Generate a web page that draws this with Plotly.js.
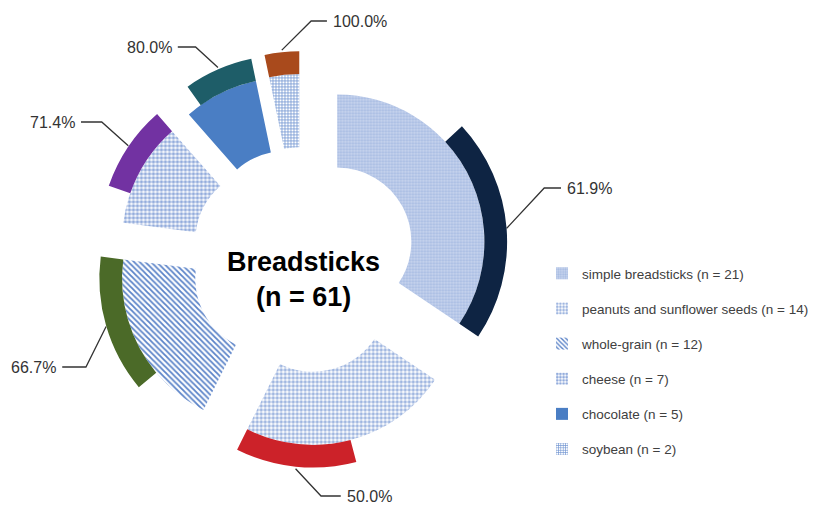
<!DOCTYPE html>
<html>
<head>
<meta charset="utf-8">
<script src="https://cdn.plot.ly/plotly-3.0.1.min.js"></script>
<style>html,body{margin:0;padding:0;background:#fff;}#chart{width:814px;height:507px;}</style>
</head>
<body>
<div id="chart"></div>
<script>
// ---- data ----
const categories = ['simple breadsticks', 'peanuts and sunflower seeds', 'whole-grain', 'cheese', 'chocolate', 'soybean'];
const counts = [21, 14, 12, 7, 5, 2];
const percents = [61.9, 50.0, 66.7, 71.4, 80.0, 100.0];
const chartTitle = 'Breadsticks';

// ---- styles / layout constants ----
const W = 814, H = 507;
const CX = 307, CY = 260;
const EXPLODE = 39;
const R = 180;
const R_IN = 75, R_MID = 149, R_OUT = 172;
const FONT = 'Liberation Sans, Arial, sans-serif';
const innerStyles = [
  {color: '#bccbe8', pattern: {shape: '.', fgcolor: '#a6bbe2', bgcolor: '#c8d5ee', size: 3, solidity: 0.45}},
  {color: '#ffffff', pattern: {shape: '.', fgcolor: '#9fb6e0', bgcolor: '#ffffff', size: 4, solidity: 0.55}},
  {color: '#ffffff', pattern: {shape: '\\', fgcolor: '#5b83c8', bgcolor: '#ffffff', size: 4, solidity: 0.45}},
  {color: '#ffffff', pattern: {shape: '.', fgcolor: '#93acdc', bgcolor: '#ffffff', size: 4, solidity: 0.6}},
  {color: '#4a7ec4', pattern: {shape: '', fgcolor: '#4a7ec4', bgcolor: '#4a7ec4'}},
  {color: '#ffffff', pattern: {shape: '+', fgcolor: '#6f93d0', bgcolor: '#ffffff', size: 3, solidity: 0.45}}
];
const outerColors = ['#0e2443', '#cc2229', '#4b6a28', '#7232a2', '#1e5d68', '#a94a1c'];
const labelPos = [
  {ex: 551, ey: 188, hx: 568, side: 'left'},
  {ex: 325, ey: 496, hx: 345, side: 'left'},
  {ex: 87,  ey: 367, hx: 63,  side: 'right'},
  {ex: 103, ey: 122, hx: 82,  side: 'right'},
  {ex: 198, ey: 47,  hx: 180, side: 'right'},
  {ex: 315, ey: 21,  hx: 331, side: 'left'}
];

// ---- build ----
const total = counts.reduce((a, b) => a + b, 0);
const degPer = 360 / total;
const traces = [];
const layout = {
  width: W, height: H,
  margin: {l: 0, r: 0, t: 0, b: 0},
  paper_bgcolor: '#ffffff', plot_bgcolor: 'rgba(0,0,0,0)',
  showlegend: true,
  legend: {
    x: 549 / W, y: 1 - 258 / H, xanchor: 'left', yanchor: 'top',
    font: {family: FONT, size: 13.5, color: '#404040'},
    tracegroupgap: 14.6, traceorder: 'grouped', bgcolor: 'rgba(0,0,0,0)',
    itemwidth: 30
  },
  xaxis: {range: [0, W], visible: false, fixedrange: true, domain: [0, 1]},
  yaxis: {range: [H, 0], visible: false, fixedrange: true, domain: [0, 1]},
  annotations: [],
  font: {family: FONT}
};

let start = 0;
counts.forEach((n, i) => {
  const ang = n * degPer;
  const mid = start + ang / 2;
  const rad = mid * Math.PI / 180;
  const cx = CX + EXPLODE * Math.sin(rad);
  const cy = CY - EXPLODE * Math.cos(rad);
  const sub = i === 0 ? 'polar' : 'polar' + (i + 1);
  layout[sub] = {
    domain: {x: [(cx - R) / W, (cx + R) / W], y: [(H - cy - R) / H, (H - cy + R) / H]},
    bgcolor: 'rgba(0,0,0,0)',
    bargap: 0,
    radialaxis: {range: [0, R], visible: false, showgrid: false, showline: false, showticklabels: false, ticks: ''},
    angularaxis: {visible: false, direction: 'clockwise', rotation: 90, showgrid: false, showline: false, showticklabels: false, ticks: ''}
  };
  // inner (category) slice
  traces.push({
    type: 'barpolar', subplot: sub,
    r: [R_MID - R_IN], base: [R_IN], theta: [mid], width: [ang],
    name: categories[i] + ' (n = ' + n + ')',
    legendgroup: 'g' + i,
    marker: {color: innerStyles[i].color, pattern: innerStyles[i].pattern, line: {width: 0}},
    hoverinfo: 'name'
  });
  // outer (percentage) arc at the clockwise end of the slice
  const w = ang * percents[i] / 100;
  const mOuter = start + ang - w / 2;
  traces.push({
    type: 'barpolar', subplot: sub,
    r: [R_OUT - R_MID], base: [R_MID], theta: [mOuter], width: [w],
    name: percents[i].toFixed(1) + '%', showlegend: false, legendgroup: 'g' + i,
    marker: {color: outerColors[i], line: {width: 0}},
    hoverinfo: 'name'
  });
  // leader line
  const ar = mOuter * Math.PI / 180;
  const ax = cx + R_OUT * Math.sin(ar);
  const ay = cy - R_OUT * Math.cos(ar);
  const lp = labelPos[i];
  traces.push({
    type: 'scatter', mode: 'lines', xaxis: 'x', yaxis: 'y',
    x: [ax, lp.ex, lp.hx], y: [ay, lp.ey, lp.ey],
    line: {color: '#333333', width: 1.3}, showlegend: false, legendgroup: 'g' + i, hoverinfo: 'skip'
  });
  layout.annotations.push({
    xref: 'x', yref: 'y', x: lp.side === 'left' ? lp.hx + 4 : lp.hx - 4, y: lp.ey,
    text: percents[i].toFixed(1) + '%', showarrow: false,
    xanchor: lp.side, yanchor: 'middle',
    font: {family: FONT, size: 16, color: '#333333'}
  });
  start += ang;
});

layout.annotations.push({
  xref: 'x', yref: 'y', x: CX, y: 279,
  text: '<b>' + chartTitle + '</b><br><b>(n = ' + total + ')</b>',
  showarrow: false, xanchor: 'center', yanchor: 'middle',
  font: {family: FONT, size: 27, color: '#000000'}
});

Plotly.newPlot('chart', traces, layout, {staticPlot: true, displayModeBar: false});
</script>
</body>
</html>
